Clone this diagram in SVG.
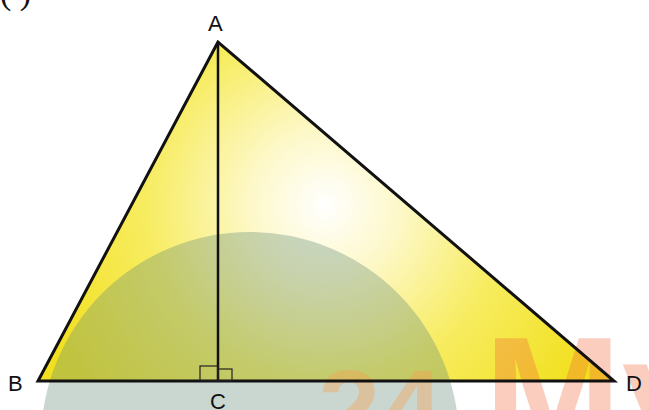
<svg xmlns="http://www.w3.org/2000/svg" width="649" height="410" viewBox="0 0 649 410">
<defs>
<radialGradient id="glow" gradientUnits="userSpaceOnUse" cx="325" cy="205" r="300">
<stop offset="0" stop-color="#ffffff"/>
<stop offset="0.25" stop-color="#fdf8c8"/>
<stop offset="0.6" stop-color="#f7ec60"/>
<stop offset="1" stop-color="#f2e020"/>
</radialGradient>
<style>
.edge{stroke:#111;stroke-width:3;fill:none;stroke-linejoin:miter}
.alt{stroke:#111;stroke-width:2.5;fill:none}
.mark{stroke:#222;stroke-width:1.2;fill:none}
.lbl{font-family:"Liberation Sans",Arial,sans-serif;font-size:22px;fill:#111}
.wm{font-family:"Liberation Sans",Arial,sans-serif;font-weight:bold}
</style>
</defs>
<rect width="649" height="410" fill="#ffffff"/>
<text x="0" y="4" font-family="'Liberation Serif',serif" font-size="34" fill="#111">( )</text>
<g id="triangle-fill">
<polygon points="218,42 38,381 614,381" fill="url(#glow)"/>
</g>
<g id="watermark">
<circle cx="250" cy="441" r="209" fill="#648c78" fill-opacity="0.35"/>
<text class="wm" x="318" y="448" font-size="112" fill="#f7a050" fill-opacity="0.4">24</text>
<text class="wm" x="484" y="452" font-size="165" fill="#f06438" fill-opacity="0.32">My</text>
</g>
<g id="connectors">
<polygon class="edge" points="218,42 38,381 614,381"/>
<line class="alt" x1="218" y1="42" x2="218" y2="381"/>
<rect class="mark" x="200" y="366" width="18" height="15"/>
<rect class="mark" x="218" y="369" width="14" height="12"/>
</g>
<g id="node-A"><text class="lbl" x="208" y="31">A</text></g>
<g id="node-B"><text class="lbl" x="8" y="391">B</text></g>
<g id="node-C"><text class="lbl" x="210" y="409">C</text></g>
<g id="node-D"><text class="lbl" x="626" y="391">D</text></g>
</svg>
